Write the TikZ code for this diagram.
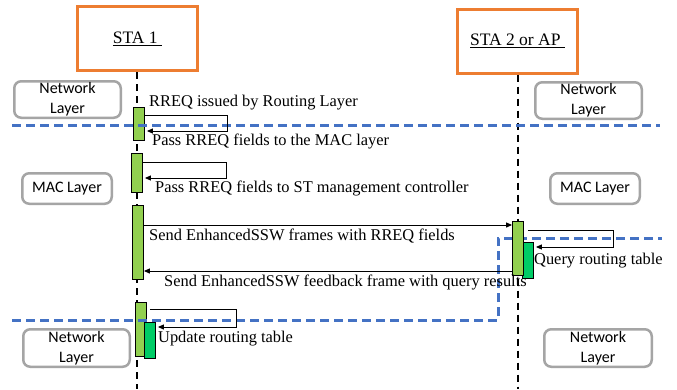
\documentclass[tikz,border=0pt]{standalone}
\usepackage{fontspec}
\setmainfont{Liberation Serif}
\newfontfamily\carlito{Carlito}
\usetikzlibrary{arrows.meta}
\definecolor{orng}{RGB}{237,125,49}
\definecolor{bluel}{RGB}{68,114,196}
\definecolor{lgreen}{RGB}{146,208,80}
\definecolor{dgreen}{RGB}{0,204,102}
\definecolor{grayb}{RGB}{165,165,165}
\begin{document}
\begin{tikzpicture}[x=1pt,y=-1pt,
 actor/.style={draw=orng,line width=3pt,fill=white,inner sep=0,minimum width=120pt,minimum height=64pt,font=\fontsize{17.5}{20}\selectfont},
 layer/.style={draw=grayb,line width=2.5pt,rounded corners=7pt,fill=white,inner sep=0,align=center,font=\carlito\fontsize{16}{20}\selectfont},
 lifeline/.style={line width=2.2pt,dash pattern=on 7pt off 5pt},
 sep/.style={draw=bluel,line width=3pt,dash pattern=on 9pt off 5pt},
 bar/.style={draw=black,line width=0.8pt,fill=lgreen,inner sep=0,minimum width=11pt},
 darkbar/.style={draw=black,line width=0.8pt,fill=dgreen,inner sep=0,minimum width=11pt},
 msg/.style={line width=1pt,-{Triangle[length=6pt,width=5pt]}},
 lbl/.style={anchor=base west,inner sep=0,font=\fontsize{16.4}{19}\selectfont}]

\useasboundingbox[fill=white] (0,0) rectangle (677,389);

% actors
\node[actor] (s1) at (137.5,38.5) {\underline{STA 1\ }};
\node[actor] (s2) at (517.5,41) {\underline{STA 2 or AP\ }};

% lifelines
\coordinate (e1) at (137,389);
\coordinate (e2) at (518,389);
\draw[lifeline] (s1.south -| e1) -- (e1);
\draw[lifeline] (s2.south -| e2) -- (e2);

% layer boxes
\node[layer,minimum width=106.5pt,minimum height=36.5pt] (nl1) at (67.5,99.5) {Network\\Layer};
\node[layer,minimum width=106.5pt,minimum height=36.5pt] (nr1) at (588.5,100.5) {Network\\Layer};
\node[layer,minimum width=89.5pt,minimum height=30.5pt] (ml) at (67,188.5) {MAC Layer};
\node[layer,minimum width=89.5pt,minimum height=30.5pt] (mr) at (595,188.5) {MAC Layer};
\node[layer,minimum width=106.5pt,minimum height=37.5pt] (nl2) at (76.5,348) {Network\\Layer};
\node[layer,minimum width=107.5pt,minimum height=37.5pt] (nr2) at (598,348) {Network\\Layer};

% STA1 bars
\node[bar,minimum height=33pt] (b1) at (139,123.5) {};
\node[bar,minimum height=39pt] (b2) at (137,172.5) {};
\node[bar,minimum height=74pt] (b3) at (138,242) {};
\node[bar,minimum height=54pt] (b6) at (141,329) {};
\node[darkbar,minimum height=36pt] (b7) at (150,340) {};

% separators
\draw[sep] (12,125) -- (660,125);
\draw[sep] (12,320) -- (498,320) -- (498,238) -- (662,238);

% STA2 bars
\node[darkbar,minimum height=36pt] (b5) at (528,260) {};
\node[bar,minimum height=54pt] (b4) at (518,248) {};

% messages
\draw[msg] (b1.east |- 0,115) -- (227,115) |- ([xshift=2pt]b1.east |- 0,131);
\draw[msg] (b2.east |- 0,162) -- (226,162) |- ([xshift=2pt]b2.east |- 0,178);
\draw[msg] (b3.east |- 0,225) -- (b4.west |- 0,225);
\draw[msg] (b4.west |- 0,271) -- (b3.east |- 0,271);
\draw[msg] ([xshift=4pt]b4.east |- 0,230) -- (613,230) |- ([xshift=2pt]b5.east |- 0,247);
\draw[msg] ([xshift=3pt]b6.east |- 0,309) -- (236,309) |- ([xshift=2pt]b7.east |- 0,327);

% labels
\node[lbl] (t1) at (149,106) {RREQ issued by Routing Layer};
\node[lbl] (t2) at (152,145) {Pass RREQ fields to the MAC layer};
\node[lbl] (t3) at (155,192) {Pass RREQ fields to ST management controller};
\node[lbl] (t4) at (149,240) {Send EnhancedSSW frames with RREQ fields};
\node[lbl] (t5) at (164,286) {Send EnhancedSSW feedback frame with query results};
\node[lbl] (t6) at (534,264) {Query routing table};
\node[lbl] (t7) at (158,342) {Update routing table};
\end{tikzpicture}
\end{document}
